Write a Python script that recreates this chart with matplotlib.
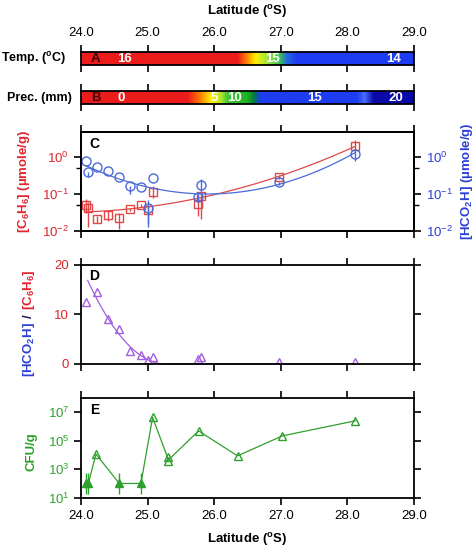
import numpy as np
import matplotlib
matplotlib.use("Agg")
import matplotlib.pyplot as plt
from matplotlib.colors import LinearSegmentedColormap
from matplotlib.ticker import FixedLocator, NullFormatter

plt.rcParams['font.family'] = ['Liberation Sans', 'DejaVu Sans']
plt.rcParams['mathtext.fontset'] = 'custom'
plt.rcParams['mathtext.rm'] = 'Liberation Sans'
plt.rcParams['mathtext.it'] = 'Liberation Sans:italic'
plt.rcParams['mathtext.bf'] = 'Liberation Sans:bold'
plt.rcParams['font.size'] = 9

# ---------------- data ----------------
lat_ticks = [24.0, 25.0, 26.0, 27.0, 28.0, 29.0]

# Temperature band (colour gradient along latitude)
temp_band_lats = [24.0, 26.35, 26.5, 26.62, 26.8, 26.98, 27.1, 27.25, 29.0]
temp_band_colors = ['#ec1c1c', '#ec1c1c', '#ff8a00', '#fff000', '#a0e640', '#40c850',
                    '#2068e0', '#1e3cf0', '#1e3cf0']
temp_labels = ['16', '15', '14']
temp_label_lats = [24.66, 26.88, 28.7]

# Precipitation band
prec_band_lats = [24.0, 25.6, 25.78, 25.95, 26.1, 26.2, 26.5, 26.6, 26.7, 28.15, 28.27, 28.4, 29.0]
prec_band_colors = ['#ec1c1c', '#ec1c1c', '#ff7a00', '#fff000', '#b0e830', '#40c838',
                    '#20b020', '#007840', '#1e3cf0', '#1e3cf0', '#4a6cff', '#0a0aa8', '#0a0aa8']
prec_labels = ['0', '5', '10', '15', '20']
prec_label_lats = [24.6, 26.0, 26.3, 27.5, 28.73]

# Panel C: concentrations (umole/g)
c_lat = [24.075, 24.11, 24.235, 24.4, 24.575, 24.735, 24.9, 25.0, 25.075, 25.76, 25.8, 26.975, 28.12]
c6h6 = [0.05, 0.041, 0.021, 0.027, 0.023, 0.039, 0.05, 0.037, 0.116, 0.053, 0.089, 0.29, 1.98]
c6h6_lo = [0.03, 0.013, 0.016, 0.019, 0.011, 0.035, 0.045, 0.016, 0.08, 0.025, 0.021, 0.25, 1.5]
c6h6_hi = [0.075, 0.06, 0.026, 0.034, 0.03, 0.043, 0.055, 0.05, 0.16, 0.07, 0.12, 0.33, 2.8]
hco2h = [0.8, 0.40, 0.53, 0.43, 0.28, 0.165, 0.15, 0.041, 0.27, 0.085, 0.18, 0.21, 1.18]
hco2h_lo = [0.8, 0.28, 0.53, 0.43, 0.28, 0.1, 0.15, 0.013, 0.27, 0.06, 0.12, 0.17, 0.8]
hco2h_hi = [0.8, 0.40, 0.53, 0.43, 0.28, 0.165, 0.15, 0.07, 0.27, 0.1, 0.25, 0.21, 1.6]

# Panel D: ratio
d_lat = [24.075, 24.235, 24.4, 24.575, 24.735, 24.9, 25.0, 25.075, 25.76, 25.8, 26.975, 28.12]
ratio = [12.4, 14.6, 9.1, 7.1, 2.7, 1.8, 0.74, 1.4, 1.07, 1.34, 0.4, 0.4]
ratio_fit_scale = 12.3   # fitted curve: scale*(end-lat)^2 up to 'end', then 0
ratio_fit_end = 25.27

# Panel E: CFU/g
e_lat = [24.075, 24.11, 24.225, 24.575, 24.9, 25.075, 25.3, 25.3, 25.765, 26.35, 27.025, 28.12]
cfu = [100, 100, 1.15e4, 100, 100, 4.3e6, 6.7e3, 3.9e3, 4.9e5, 8.7e3, 2.2e5, 2.5e6]
cfu_detected = [0, 0, 1, 0, 0, 1, 1, 1, 1, 1, 1, 1]
cfu_lo = [18, 18, None, 18, 18, None, None, None, None, None, None, None]
cfu_hi = [560, 560, None, 560, 560, None, None, None, None, None, None, None]

RED = '#e0242c'
BLUE = '#2b3fd6'
RED_L = '#e04848'
BLUE_L = '#4a6ad8'
PURPLE = '#a35ee0'
GREEN = '#2ea02e'

W, H = 474, 554
fig = plt.figure(figsize=(W / 100, H / 100), dpi=100)

def ax_at(x0, y0, x1, y1):
    return fig.add_axes([x0 / W, 1 - y1 / H, (x1 - x0) / W, (y1 - y0) / H])

XL, XR = 81, 414
axA = ax_at(XL, 51.7, XR, 65)
axB = ax_at(XL, 90.7, XR, 104)
axC = ax_at(XL, 131.7, XR, 231)
axD = ax_at(XL, 264.7, XR, 364)
axE = ax_at(XL, 398, XR, 497.7)

def style(ax):
    for s in ax.spines.values():
        s.set_linewidth(1.3)
    ax.set_xlim(24, 29)
    ax.set_xticks(lat_ticks)
    ax.tick_params(axis='both', which='major', direction='out', length=5, width=1.2,
                   top=True, bottom=True)

# ---------------- bands ----------------
def band(ax, lats, colors, labels, label_lats, letter):
    pos = [(l - 24.0) / 5.0 for l in lats]
    cmap = LinearSegmentedColormap.from_list('b', list(zip(pos, colors)))
    grad = np.linspace(0, 1, 600)[None, :]
    ax.imshow(grad, cmap=cmap, aspect='auto', extent=[24, 29, 0, 1], interpolation='bilinear')
    style(ax)
    ax.set_ylim(0, 1)
    ax.set_yticks([])
    ax.tick_params(axis='x', length=5, labelbottom=False)
    for t, l in zip(labels, label_lats):
        ax.text(l, 0.45, t, color='white', fontweight='bold', fontsize=9.5,
                ha='center', va='center')
    ax.text(24.22, 0.45, letter, color='#3c0000', fontweight='bold', fontsize=9.5,
            ha='center', va='center')

band(axA, temp_band_lats, temp_band_colors, temp_labels, temp_label_lats, 'A')
axA.tick_params(axis='x', labeltop=True, pad=4, labelsize=9.5)
axA.set_xticklabels([f'{v:.1f}' for v in lat_ticks])
band(axB, prec_band_lats, prec_band_colors, prec_labels, prec_label_lats, 'B')

fig.text(1 / W, 1 - 59 / H, 'Temp. ($^{\\mathbf{o}}$C)', fontweight='bold',
         fontsize=9, ha='left', va='center')
fig.text(7 / W, 1 - 98 / H, 'Prec. (mm)', fontweight='bold', fontsize=9,
         ha='left', va='center')
fig.text((XL + XR) / 2 / W, 1 - 12 / H, 'Latitude ($^{\\mathbf{o}}$S)', fontweight='bold',
         fontsize=9.5, ha='center', va='center')

# ---------------- panel C ----------------
style(axC)
axC.set_yscale('log')
axC.set_ylim(0.01, 4.8)
axC.tick_params(axis='x', labelbottom=False)
axC.yaxis.set_major_locator(FixedLocator([0.01, 0.1, 1]))
axC.yaxis.set_minor_locator(FixedLocator([0.05, 0.5]))
axC.yaxis.set_minor_formatter(NullFormatter())
axC.tick_params(axis='y', which='minor', direction='out', length=3.5, width=1.0)
axC.tick_params(axis='y', colors='black', labelcolor=RED, labelsize=9.5)

axR = axC.twinx()
axR.set_yscale('log')
axR.set_ylim(0.01, 4.8)
axR.yaxis.set_major_locator(FixedLocator([0.01, 0.1, 1]))
axR.yaxis.set_minor_locator(FixedLocator([0.05, 0.5]))
axR.yaxis.set_minor_formatter(NullFormatter())
axR.tick_params(axis='y', which='major', direction='out', length=5, width=1.2,
                labelcolor=BLUE, labelsize=9.5)
axR.tick_params(axis='y', which='minor', direction='out', length=3.5, width=1.0)
for s in axR.spines.values():
    s.set_linewidth(1.3)

c_lat_a = np.array(c_lat)
xf = np.linspace(min(c_lat), max(c_lat), 200)
for vals, lo, hi, col, mk, ax in [(c6h6, c6h6_lo, c6h6_hi, RED_L, 's', axC),
                                  (hco2h, hco2h_lo, hco2h_hi, BLUE_L, 'o', axR)]:
    v = np.array(vals)
    coef = np.polyfit(c_lat_a, np.log10(v), 2)
    ax.plot(xf, 10 ** np.polyval(coef, xf), color=col, lw=0.9)
    yerr = [v - np.array(lo), np.array(hi) - v]
    ax.errorbar(c_lat_a, v, yerr=yerr, fmt='none', ecolor=col, elinewidth=1.0, capsize=0)
    ax.plot(c_lat_a, v, mk, mfc='none', mec=col, ms=6.5 if mk == 'o' else 5.5, mew=1.0,
            ls='none')
axC.text(0.04, 0.88, 'C', transform=axC.transAxes, fontweight='bold', fontsize=10,
         ha='center', va='center')

fig.text(24 / W, 1 - 181 / H, '[C$_{\\mathbf{6}}$H$_{\\mathbf{6}}$] (µmole/g)', color=RED,
         fontweight='bold', fontsize=9.5, rotation=90, ha='center', va='center')
fig.text(467 / W, 1 - 181 / H, '[HCO$_{\\mathbf{2}}$H] (µmole/g)', color=BLUE,
         fontweight='bold', fontsize=9.5, rotation=90, ha='center', va='center')

# ---------------- panel D ----------------
style(axD)
axD.set_ylim(0, 20)
axD.set_yticks([0, 10, 20])
axD.tick_params(axis='x', labelbottom=False)
axD.tick_params(axis='y', right=True, labelcolor=RED, labelsize=9.5)
xd = np.linspace(24.1, max(d_lat), 300)
fit = np.where(xd < ratio_fit_end, ratio_fit_scale * (ratio_fit_end - xd) ** 2, 0.0)
axD.plot(xd, fit, color=PURPLE, lw=0.9, clip_on=False)
axD.plot(d_lat, ratio, '^', mfc='none', mec=PURPLE, ms=6, mew=1.0, ls='none')
axD.text(0.04, 0.885, 'D', transform=axD.transAxes, fontweight='bold', fontsize=10,
         ha='center', va='center')

yc = 1 - 316 / H
xc = 29 / W
fig.text(xc, yc, '/', color='#1a1a60', fontweight='bold', fontsize=9.5, rotation=90,
         rotation_mode='anchor', ha='center', va='center')
fig.text(xc, yc - 6 / H, '[HCO$_{\\mathbf{2}}$H]', color=BLUE, fontweight='bold', fontsize=9.5,
         rotation=90, rotation_mode='anchor', ha='right', va='center')
fig.text(xc, yc + 6 / H, '[C$_{\\mathbf{6}}$H$_{\\mathbf{6}}$]', color=RED, fontweight='bold',
         fontsize=9.5, rotation=90, rotation_mode='anchor', ha='left', va='center')

# ---------------- panel E ----------------
style(axE)
axE.set_yscale('log')
axE.set_ylim(10, 1e8)
axE.yaxis.set_major_locator(FixedLocator([1e1, 1e3, 1e5, 1e7]))
axE.yaxis.set_minor_locator(FixedLocator([]))
axE.tick_params(axis='y', right=True, labelcolor=GREEN, labelsize=9.5)
axE.tick_params(axis='x', labelsize=9.5, pad=4)
axE.set_xticklabels([f'{v:.1f}' for v in lat_ticks])
axE.plot(e_lat, cfu, color=GREEN, lw=0.9)
for la, v, det, lo, hi in zip(e_lat, cfu, cfu_detected, cfu_lo, cfu_hi):
    if det:
        axE.plot([la], [v], '^', mfc='none', mec=GREEN, ms=6, mew=1.0)
    else:
        axE.errorbar([la], [v], yerr=[[v - lo], [hi - v]], fmt='^', color=GREEN,
                     ms=6, elinewidth=1.0, capsize=0)
axE.text(0.04, 0.88, 'E', transform=axE.transAxes, fontweight='bold', fontsize=10,
         ha='center', va='center')
axE.set_xlabel('Latitude ($^{\\mathbf{o}}$S)', fontweight='bold', fontsize=9.5, labelpad=6)
fig.text(31 / W, 1 - 452 / H, 'CFU/g', color=GREEN, fontweight='bold', fontsize=9.5,
         rotation=90, ha='center', va='center')

fig.savefig('out.png', dpi=100)
